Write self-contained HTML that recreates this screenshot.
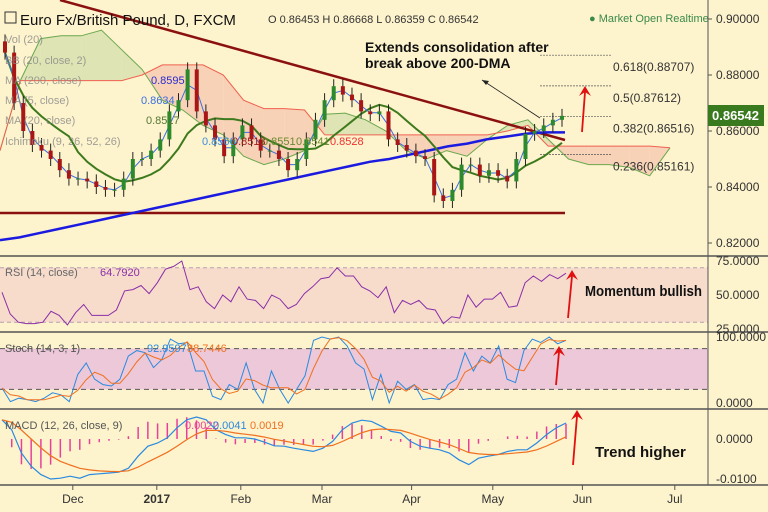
<!DOCTYPE html>
<html><head><meta charset="utf-8">
<style>
body{margin:0;background:#fdf3cd;}
svg{display:block;font-family:"Liberation Sans",sans-serif;}
</style></head>
<body>
<svg id="c" width="768" height="512" viewBox="0 0 768 512">
<rect x="0" y="0" width="768" height="512" fill="#fdf3cd"/>
<g id="cloud"></g>
<g id="main"></g>
<g id="panes"></g>
<g id="axes"></g>
</svg>
<script>
// ---- data ----
const closes=[0.888,0.870,0.860,0.855,0.853,0.850,0.846,0.843,0.843,0.842,0.840,0.839,0.839,0.843,0.850,0.850,0.853,0.857,0.867,0.871,0.882,0.867,0.862,0.857,0.851,0.857,0.862,0.857,0.853,0.853,0.850,0.846,0.850,0.857,0.864,0.871,0.876,0.873,0.871,0.867,0.866,0.867,0.857,0.855,0.853,0.851,0.850,0.837,0.835,0.839,0.848,0.848,0.844,0.846,0.844,0.842,0.850,0.859,0.860,0.862,0.864,0.8654];
const ma200=[0.821,0.822,0.8235,0.825,0.8265,0.828,0.8295,0.831,0.8325,0.834,0.8355,0.837,0.8385,0.840,0.8415,0.843,0.8445,0.846,0.8475,0.849,0.850,0.8515,0.853,0.8545,0.8555,0.857,0.858,0.859,0.8595];
const spanA=[0.853,0.878,0.893,0.894,0.894,0.896,0.889,0.882,0.871,0.8675,0.862,0.8586,0.851,0.848,0.850,0.853,0.866,0.8664,0.864,0.860,0.853,0.850,0.853,0.851,0.857,0.862,0.864,0.857,0.850,0.848,0.848,0.847,0.844,0.854];
const spanB=[0.853,0.878,0.878,0.878,0.878,0.878,0.878,0.880,0.8836,0.8836,0.8836,0.880,0.871,0.868,0.868,0.8675,0.8586,0.8586,0.8586,0.8586,0.8586,0.8586,0.8586,0.8586,0.8586,0.860,0.862,0.8546,0.8546,0.8546,0.8546,0.8546,0.8546,0.854];
const rsi=[52,36,30,29,29,30,38,35,28,37,43,35,35,35,39,53,54,57,51,59,69,71,75,54,56,45,40,50,45,56,47,46,40,50,47,40,43,51,56,62,63,70,64,64,56,53,48,56,37,46,43,46,40,39,29,34,33,50,41,47,47,52,41,42,59,64,60,65,62,66];
const stochK=[22,2,7,5,2,7,15,12,2,42,59,35,27,25,35,69,77,74,52,64,94,87,89,47,47,10,5,27,20,59,20,0,47,20,0,20,40,92,97,94,97,84,59,50,5,42,0,32,20,27,5,7,5,27,35,74,47,69,59,84,35,30,77,94,89,97,87,92];
const macd=[0.0048,0.0023,-0.0035,-0.0068,-0.0089,-0.0100,-0.0098,-0.0093,-0.0098,-0.0089,-0.0087,-0.0085,-0.0083,-0.0073,-0.0043,-0.0018,-0.0010,0.0003,0.0028,0.0048,0.0055,0.0048,0.0023,0.0011,0.0003,0.0003,0.0000,-0.0008,-0.0017,-0.0018,-0.0023,-0.0027,-0.0031,-0.0023,-0.0006,0.0023,0.0040,0.0047,0.0044,0.0032,0.0019,0.0015,-0.0006,-0.0018,-0.0023,-0.0027,-0.0035,-0.0052,-0.0064,-0.0048,-0.0043,-0.0039,-0.0031,-0.0027,-0.0027,-0.0010,0.0011,0.0028,0.0040];
const priceTicks=["0.90000","0.88000","0.86000","0.84000","0.82000"];
const priceTickVals=[0.90,0.88,0.86,0.84,0.82];
const monthLabels=["Dec","2017","Feb","Mar","Apr","May","Jun","Jul"];
const monthDays=[26,56,86,115,147,176,208,241];
const fibLabels=["0.618(0.88707)","0.5(0.87612)","0.382(0.86516)","0.236(0.85161)"];
const fibVals=[0.88707,0.87612,0.86516,0.85161];

// ---- scales ----
const NS="http://www.w3.org/2000/svg";
const py=p=>19+(0.90-p)*2800;
const rsiY=v=>295-(v-50)*1.36;
const stY=v=>403-v*0.68;
const mY=v=>439-v*4000;
const dayX=d=>d*2.8;
const xs=(i,n,a,b)=>a+i*(b-a)/(n-1);
function el(parent,tag,attrs,text){const e=document.createElementNS(NS,tag);for(const k in attrs)e.setAttribute(k,attrs[k]);if(text!==undefined)e.textContent=text;document.getElementById(parent).appendChild(e);return e;}
function line(parent,vals,x0,x1,yf,col,w,name){const n=vals.length;const d=vals.map((v,i)=>(i?'L':'M')+xs(i,n,x0,x1).toFixed(1)+','+yf(v).toFixed(1)).join('');const e=el(parent,'path',{d:d,fill:'none',stroke:col,'stroke-width':w});


return e;}
const sma=(a,w)=>a.map((v,i)=>{const s=a.slice(Math.max(0,i-w+1),i+1);return s.reduce((p,c)=>p+c,0)/s.length;});

// ---- cloud ----
{const n=spanA.length;for(let i=0;i<n-1;i++){const x0=xs(i,n,0,670),x1=xs(i+1,n,0,670);const up=(spanA[i]+spanA[i+1])>=(spanB[i]+spanB[i+1]);
const q=el('cloud','polygon',{points:`${x0},${py(spanA[i])} ${x1},${py(spanA[i+1])} ${x1},${py(spanB[i+1])} ${x0},${py(spanB[i])}`,fill:up?'#dfe4b4':'#f8d2b6',stroke:'none'});

}
line('cloud',spanA,0,670,py,'#6aa84f',1,'span-a-line');line('cloud',spanB,0,670,py,'#f06050',1,'span-b-line');}

// ---- main ----
function addLine(x1,y1,x2,y2,col,w,name,dash){const e=el('main','line',{x1:x1,y1:y1,x2:x2,y2:y2,stroke:col,'stroke-width':w});if(dash)e.setAttribute('stroke-dasharray',dash);

return e;}
addLine(60,0,565,140,'#8b1010',2.5,'falling-trendline');
addLine(0,213,565,213,'#8b1010',2.5,'support-line');
fibVals.forEach((v,i)=>{addLine(540,py(v),612,py(v),'#555',0.7,'fib-level','2,1');
const t=el('main','text',{x:613,y:py(v)+16,'font-size':12,fill:'#333'},fibLabels[i]);

});
line('main',ma200,0,545,py,'#1a1ae0',2.5,'ma200-line');
addLine(545,py(0.8595),565,py(0.8595),'#1a1ae0',2.5,'ma200-flat');
line('main',sma(closes,8),5,562,py,'#3d7a1d',2,'ma20-line');
line('main',sma(closes,2),5,562,py,'#3b6fe0',1,'ma5-line');
{const n=closes.length;for(let i=0;i<n;i++){const x=xs(i,n,5,562);const o=i?closes[i-1]:closes[0]+0.004;const c=closes[i];const col=c>=o?'#2c8a2c':'#a81616';
const w=el('main','line',{x1:x,x2:x,y1:py(Math.max(o,c)+0.0025),y2:py(Math.min(o,c)-0.0025),stroke:'#222','stroke-width':1});


const b=el('main','rect',{x:x-2,y:py(Math.max(o,c)),width:4,height:Math.max(1,Math.abs(py(o)-py(c))),fill:col});

}}
// annotations
addLine(540,118,482,80,'#222',0.8,'annotation-arrow');
el('main','path',{d:'M482,80 l7,1 l-3,4z',fill:'#222'});
addLine(582,132,585,92,'#e01010',1.8,'target-arrow');
el('main','path',{d:'M585,86 l-6,10 l6,-4 l6,4z',fill:'#e01010'});
function txt(p,x,y,s,size,col,name,extra){const t=el(p,'text',Object.assign({x:x,y:y,'font-size':size,fill:col},extra||{}),s);

return t;}
txt('main',365,52,'Extends consolidation after',14,'#111','annotation-line1',{'font-weight':'bold'});
txt('main',365,68,'break above 200-DMA',14,'#111','annotation-line2',{'font-weight':'bold'});
txt('main',20,25,'Euro Fx/British Pound, D, FXCM',15,'#111','chart-title');
txt('main',268,23,'O 0.86453  H 0.86668  L 0.86359  C 0.86542',11,'#333','ohlc-values');
txt('main',589,22,'● Market Open  Realtime',11,'#3a8a4a','market-status');
el('main','rect',{x:5,y:12,width:11,height:11,fill:'none',stroke:'#333'});
const legs=[['Vol (20)',43],['BB (20, close, 2)',64],['MA (200, close)',84],['MA (5, close)',104],['MA (20, close)',124],['Ichimoku (9, 26, 52, 26)',145]];
legs.forEach(l=>txt('main',5,l[1],l[0],11,'#888','indicator-legend',{opacity:0.8}));
txt('main',151,84,'0.8595',11,'#2a2ad0','ma200-value');
txt('main',141,104,'0.8634',11,'#3b6fe0','ma5-value');
txt('main',146,124,'0.8517',11,'#557733','ma20-value');
[['0.8566',202,'#3b8fe0'],['0.8513',232,'#a02020'],['0.8551',262,'#6a8a30'],['0.8541',296,'#6a8a30'],['0.8528',330,'#f03030']].forEach(v=>txt('main',v[1],145,v[0],11,v[2],'ichimoku-value'));

// ---- RSI ----
el('panes','rect',{x:0,y:rsiY(70),width:708,height:rsiY(30)-rsiY(70),fill:'#f7dccc'});
[70,30].forEach(v=>el('panes','line',{x1:0,x2:708,y1:rsiY(v),y2:rsiY(v),stroke:'#b8a0b0','stroke-dasharray':'4,3'}));
line('panes',rsi,2,566,rsiY,'#8a2fa8',1,'rsi-line');
txt('panes',5,276,'RSI (14, close)',11,'#666','rsi-legend');
txt('panes',100,276,'64.7920',11,'#8a2fa8','rsi-value');
txt('panes',585,296,'Momentum bullish',15,'#111','momentum-note',{'font-weight':'bold',textLength:117,lengthAdjust:'spacingAndGlyphs'});
// ---- Stoch ----
el('panes','rect',{x:0,y:stY(80),width:708,height:stY(20)-stY(80),fill:'#ecc8d8'});
[80,20].forEach(v=>el('panes','line',{x1:0,x2:708,y1:stY(v),y2:stY(v),stroke:'#555','stroke-dasharray':'5,4'}));
line('panes',stochK,2,566,stY,'#2a8ae0',1,'stoch-k-line');
line('panes',sma(stochK,3),2,566,stY,'#f07020',1,'stoch-d-line');
txt('panes',5,352,'Stoch (14, 3, 1)',11,'#555','stoch-legend');
txt('panes',147,352,'92.9597',11,'#2a8ae0','stoch-k-value');
txt('panes',187,352,'88.7446',11,'#f07020','stoch-d-value');
// ---- MACD ----
const sig=[];macd.forEach((v,i)=>sig.push(i?sig[i-1]+(v-sig[i-1])*0.25:v));
{const n=macd.length;macd.forEach((v,i)=>{const x=xs(i,n,2,566);const h=(v-sig[i])*1.1;
const b=el('panes','line',{x1:x,x2:x,y1:mY(0),y2:mY(h),stroke:'#e8409a','stroke-width':1.5});

});}
line('panes',macd,2,566,mY,'#2a8ae0',1.2,'macd-line');
line('panes',sig,2,566,mY,'#f07020',1.2,'signal-line');
txt('panes',5,429,'MACD (12, 26, close, 9)',11,'#555','macd-legend');
txt('panes',185,429,'0.0022',11,'#e8409a','macd-hist-value');
txt('panes',213,429,'0.0041',11,'#2a8ae0','macd-value');
txt('panes',250,429,'0.0019',11,'#f07020','signal-value');
txt('panes',595,457,'Trend higher',15,'#111','trend-note',{'font-weight':'bold'});
// red arrows
[[568,318,572,276],[556,385,559,352],[573,465,577,416]].forEach(a=>{el('panes','line',{x1:a[0],y1:a[1],x2:a[2],y2:a[3],stroke:'#e01010','stroke-width':1.8});el('panes','path',{d:`M${a[2]},${a[3]-6} l-6,10 l6,-4 l6,4z`,fill:'#e01010'});});

// ---- axes ----
[256,332,409,485].forEach(y=>el('axes','line',{x1:0,x2:768,y1:y,y2:y,stroke:'#555','stroke-width':1.5}));
el('axes','line',{x1:708,x2:708,y1:0,y2:485,stroke:'#555','stroke-width':1});
priceTicks.forEach((t,i)=>{const y=py(priceTickVals[i]);el('axes','line',{x1:708,x2:712,y1:y,y2:y,stroke:'#555'});txt('axes',716,y+4,t,12,'#333','price-tick');});
[['75.0000',261],['50.0000',295],['25.0000',329],['100.0000',337],['0.0000',403],['0.0000',439],['-0.0100',479]].forEach(t=>txt('axes',716,t[1]+4,t[0],12,'#333','indicator-tick'));
el('axes','rect',{x:708,y:105,width:56,height:21,fill:'#3a7a1f'});
txt('axes',712,120,'0.86542',13,'#fff','last-price-tag',{'font-weight':'bold'});
monthLabels.forEach((m,i)=>{const x=dayX(monthDays[i]);el('axes','line',{x1:x,x2:x,y1:485,y2:490,stroke:'#555'});txt('axes',x,503,m,12,'#333','month-label',{'text-anchor':'middle','font-weight':m==='2017'?'bold':'normal'});});
</script>
</body></html>
